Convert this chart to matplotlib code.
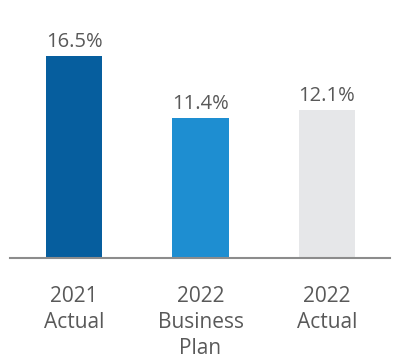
import matplotlib
matplotlib.use("Agg")
import matplotlib.pyplot as plt

categories = ["2021\nActual", "2022\nBusiness\nPlan", "2022\nActual"]
values = [16.5, 11.4, 12.1]
value_labels = ["16.5%", "11.4%", "12.1%"]
colors = ["#065E9E", "#1E8ED1", "#E6E7E9"]

plt.rcParams['font.family'] = ['Open Sans', 'DejaVu Sans']

fig = plt.figure(figsize=(4.0, 3.6), dpi=100)
# axes: x from 10px to 390px, baseline at y=258px from top
left, right = 10 / 400, 390 / 400
bottom = (360 - 258) / 360
top = 1.0
ax = fig.add_axes([left, bottom, right - left, top - bottom])

x = list(range(len(categories)))
ax.bar(x, values, width=0.443, color=colors, zorder=2)
ax.set_xlim(-0.506, 2.498)
ax.set_ylim(0, 258 / 12.24)

for xi, v, lab in zip(x, values, value_labels):
    ax.annotate(lab, (xi, v), xytext=(0, 3), textcoords="offset points",
                ha="center", va="bottom", fontsize=14.5, color="#595959")

for s in ["top", "right", "left"]:
    ax.spines[s].set_visible(False)
ax.spines["bottom"].set_color("#8C8C8C")
ax.spines["bottom"].set_linewidth(1.5)
ax.set_yticks([])
ax.set_xticks(x)
ax.set_xticklabels(categories, fontsize=15, color="#595959", linespacing=1.3)
ax.tick_params(axis="x", length=0, pad=20.5)

fig.savefig("out.png", dpi=100)
